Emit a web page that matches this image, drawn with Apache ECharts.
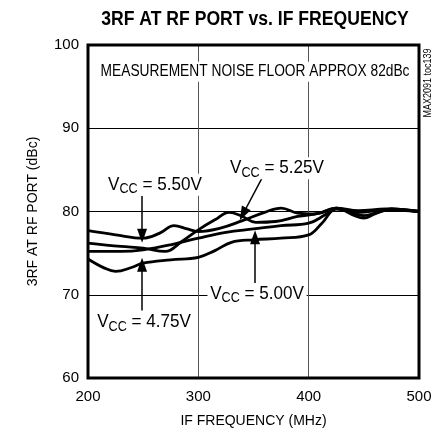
<!DOCTYPE html>
<html>
<head>
<meta charset="utf-8">
<script src="https://cdn.jsdelivr.net/npm/echarts@6/dist/echarts.min.js"></script>
<style>
  html, body { margin: 0; padding: 0; background: #fff; }
  #main { width: 441px; height: 436px; }
</style>
</head>
<body>
<div id="main"></div>
<script>
// curves, [MHz, dBc]
var vcc475 = [[200,74.3],[215,73.2],[225,72.8],[240,73.3],[250,73.8],[275,74.2],[300,74.5],[315,75.3],[330,76.3],[350,76.6],[375,76.8],[400,77.2],[412,78.6],[425,80.3],[445,79.9],[470,80.2],[500,80.0]];
var vcc500 = [[200,75.2],[230,75.2],[250,75.4],[275,76.0],[300,76.8],[325,77.5],[350,77.9],[375,78.3],[400,78.6],[415,79.6],[425,80.4],[440,79.8],[450,79.5],[460,79.8],[475,80.3],[500,80.0]];
var vcc525 = [[200,76.2],[230,75.8],[250,75.6],[270,75.2],[285,76.4],[300,77.8],[315,79.0],[328,79.9],[340,79.4],[352,78.7],[370,78.8],[390,79.4],[410,79.8],[425,80.4],[440,79.6],[450,79.2],[460,79.7],[475,80.3],[500,80.0]];
var vcc550 = [[200,77.7],[225,77.2],[250,76.8],[265,77.4],[278,78.3],[290,77.9],[300,77.6],[320,78.0],[340,78.9],[360,79.9],[375,80.4],[390,79.8],[405,79.7],[425,80.4],[445,80.1],[470,80.3],[500,80.0]];

var xTicks = [200, 300, 400, 500];
var yTicks = [60, 70, 80, 90, 100];

// labels: [name, text pos, arrow from, arrow to]
var callouts = [
  ['5.50V', [260.7, 83.2], [249, 81.9], [249, 77.1]],
  ['5.25V', [371.3, 85.2], [357.7, 84.0], [340.5, 79.7]],
  ['4.75V', [250.8, 66.7], [249, 68.1], [249, 73.6]],
  ['5.00V', [353.2, 70.1], [351.4, 71.4], [351.4, 76.9]]
];
var titleText = '3RF AT RF PORT vs. IF FREQUENCY';
var noteText = 'MEASUREMENT NOISE FLOOR APPROX 82dBc';
var notePos = [351.4, 96.8];
var tocText = 'MAX2091 toc139';

var font = '"Liberation Sans", Arial, sans-serif';

var chart = echarts.init(document.getElementById('main'));

function curve(data) {
  return {
    type: 'line',
    data: data,
    smooth: 0.4,
    symbol: 'none',
    lineStyle: { color: '#000', width: 2.8 },
    z: 3
  };
}

var arrowLines = callouts.map(function (c) {
  return [{ coord: c[2] }, { coord: c[3] }];
});

var option = {
  animation: false,
  grid: {
    left: 88, right: 22, top: 45, bottom: 58,
    show: true, borderColor: '#000', borderWidth: 3, z: 5
  },
  xAxis: {
    type: 'value',
    min: 200, max: 500, interval: 100,
    name: 'IF FREQUENCY (MHz)',
    nameLocation: 'middle',
    nameGap: 36,
    nameTextStyle: { fontFamily: font, fontSize: 14, color: '#000' },
    axisLine: { show: false },
    axisTick: { show: false },
    axisLabel: { fontFamily: font, fontSize: 15, color: '#000', margin: 11 },
    splitLine: { show: true, lineStyle: { color: '#555', width: 1 } }
  },
  yAxis: {
    type: 'value',
    min: 60, max: 100, interval: 10,
    name: '3RF AT RF PORT (dBc)',
    nameLocation: 'middle',
    nameGap: 48,
    nameTextStyle: { fontFamily: font, fontSize: 14, color: '#000' },
    axisLine: { show: false },
    axisTick: { show: false },
    axisLabel: { fontFamily: font, fontSize: 15, color: '#000', margin: 9 },
    splitLine: { show: true, lineStyle: { color: '#000', width: 1 } }
  },
  series: [
    curve(vcc475),
    curve(vcc500),
    curve(vcc525),
    curve(vcc550),
    {
      type: 'line',
      data: [],
      markLine: {
        silent: true,
        symbol: ['none', 'triangle'],
        symbolSize: [10, 14],
        label: { show: false },
        lineStyle: { color: '#000', width: 1.5, type: 'solid' },
        data: arrowLines
      },
      z: 4
    }
  ]
};
chart.setOption(option);

var graphics = [];
graphics.push({
  type: 'text', x: 255, y: 19, scaleX: 0.88, z: 10,
  style: {
    text: titleText, fontFamily: font, fontWeight: 'bold', fontSize: 20, fill: '#000',
    align: 'center', verticalAlign: 'middle'
  }
});
var p = chart.convertToPixel({ gridIndex: 0 }, notePos);
graphics.push({
  type: 'text', x: p[0], y: p[1], scaleX: 0.86, z: 10,
  style: {
    text: noteText, fontFamily: font, fontSize: 16, fill: '#000',
    align: 'center', verticalAlign: 'middle',
    backgroundColor: '#fff', padding: [2, 2]
  }
});
callouts.forEach(function (c) {
  var q = chart.convertToPixel({ gridIndex: 0 }, c[1]);
  graphics.push({
    type: 'text', x: q[0], y: q[1], scaleX: 0.9, z: 10,
    style: {
      text: '{v|V}{s|CC}{v| = ' + c[0] + '}',
      align: 'center', verticalAlign: 'middle',
      backgroundColor: '#fff', padding: [0, 3],
      rich: {
        v: { fontFamily: font, fontSize: 19, fill: '#000', lineHeight: 22 },
        s: { fontFamily: font, fontSize: 14, fill: '#000', lineHeight: 22, padding: [9, 0, 0, 0] }
      }
    }
  });
});
graphics.push({
  type: 'text', x: 428, y: 83, rotation: Math.PI / 2, scaleX: 0.9, z: 10,
  style: {
    text: tocText, fontFamily: font, fontSize: 10, fill: '#000',
    align: 'center', verticalAlign: 'middle'
  }
});
chart.setOption({ graphic: graphics });
</script>
</body>
</html>
